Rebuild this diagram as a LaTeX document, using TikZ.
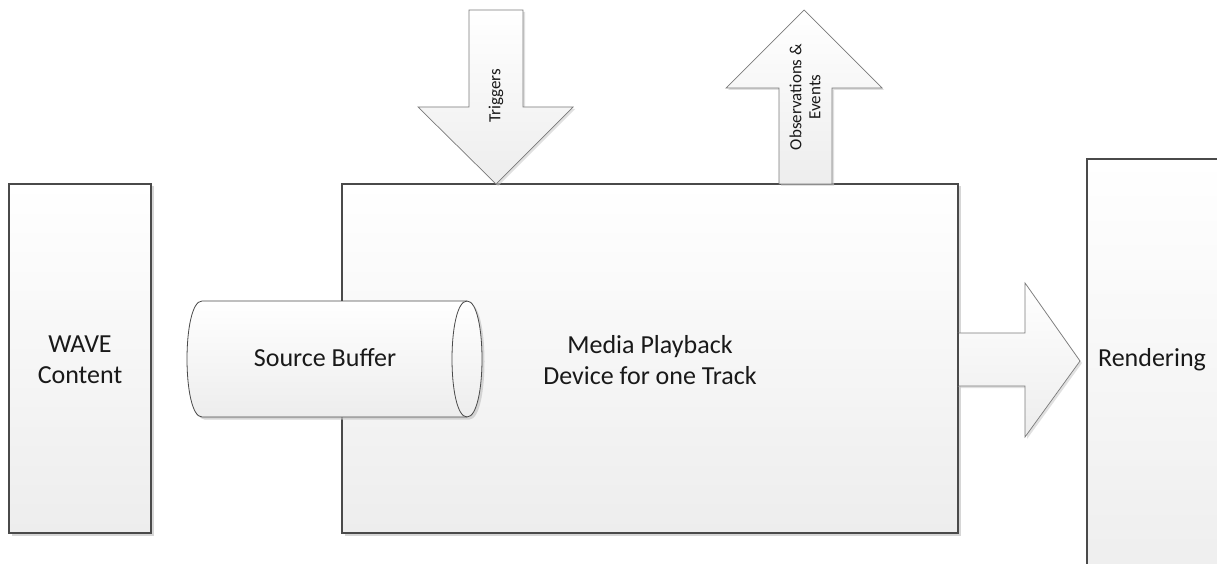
\documentclass[tikz,border=0pt]{standalone}
\usepackage{fontspec}
\setmainfont{Carlito}
\usetikzlibrary{shadows}
\definecolor{edge}{HTML}{4A4A4A}
\definecolor{aedge}{HTML}{7A7A7A}
\definecolor{fillbot}{HTML}{EDEDED}
\tikzset{
  boxshape/.style={draw=edge, line width=1.1pt, top color=white, bottom color=fillbot,
    drop shadow={shadow xshift=2.5pt, shadow yshift=-2.5pt, fill=gray!45, opacity=0.7}},
  blockarrow/.style={draw=aedge, line width=0.7pt, top color=white, bottom color=fillbot,
    drop shadow={shadow xshift=2pt, shadow yshift=-2pt, fill=gray!40, opacity=0.6}},
  bigtext/.style={font=\fontsize{26}{31}\selectfont, align=center, text=black!90},
  smalltext/.style={font=\fontsize{17}{19}\selectfont, align=center, text=black!90, rotate=90},
}
\begin{document}
\begin{tikzpicture}[x=1pt,y=-1pt]
\useasboundingbox (0,0) rectangle (1217,564);
\clip (0,0) rectangle (1217,564);
\fill[white] (0,0) rectangle (1217,564);

% WAVE Content box
\draw[boxshape] (9,184) rectangle (151,533);
\node[bigtext] (wave) at (80,360) {WAVE\\Content};

% Main box
\draw[boxshape] (342,184) rectangle (958,533);
\node[bigtext] (media) at (650,360) {Media Playback\\Device for one Track};

% Rendering box
\draw[boxshape] (1087,159) rectangle (1240,600);
\node[bigtext] (render) at (1152,360) {Rendering};

% Source buffer cylinder
\draw[boxshape, line width=0.8pt] (202,301) -- (467,301)
  .. controls (487,301) and (487,417) .. (467,417) -- (202,417)
  .. controls (182,417) and (182,301) .. (202,301) -- cycle;
\draw[draw=edge, line width=0.8pt] (467,301) .. controls (447,301) and (447,417) .. (467,417);
\node[bigtext] (sb) at (325,358) {Source Buffer};

% Triggers arrow (down)
\draw[blockarrow] (469,10) -- (523,10) -- (523,107) -- (573,107) -- (496,184) -- (418,107) -- (469,107) -- cycle;
\node[smalltext] (trig) at (496,96) {Triggers};

% Observations arrow (up)
\draw[blockarrow] (779,184) -- (779,88) -- (726,88) -- (804,10) -- (882,88) -- (832,88) -- (832,184) -- cycle;
\node[smalltext] (obs) at (805,97) {Observations \&\\Events};

% Output arrow (right)
\draw[blockarrow] (958,333) -- (1025,333) -- (1025,283) -- (1080,361) -- (1025,437) -- (1025,386) -- (958,386) -- cycle;
\draw[draw=edge, line width=1.1pt] (958,333) -- (958,386);
\end{tikzpicture}
\end{document}
